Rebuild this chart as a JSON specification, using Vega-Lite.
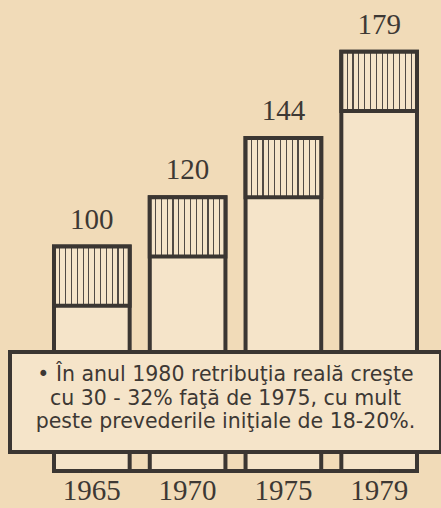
{
  "$schema": "https://vega.github.io/schema/vega-lite/v6.json",
  "width": 431,
  "height": 471,
  "autosize": "none",
  "padding": {"left": 10, "top": 0, "right": 0, "bottom": 37},
  "background": "#f1dbb8",
  "config": {"view": {"stroke": null}},
  "layer": [
    {
      "data": {"values": [
        {"year": "1965", "value": 100, "hatch_base": 76},
        {"year": "1970", "value": 120, "hatch_base": 96},
        {"year": "1975", "value": 144, "hatch_base": 120},
        {"year": "1979", "value": 179, "hatch_base": 155}
      ]},
      "encoding": {
        "x": {"field": "year", "type": "ordinal", "sort": null,
          "scale": {"paddingInner": 0.21, "paddingOuter": 0.355, "align": 0.647},
          "axis": {"title": null, "domain": false, "ticks": false, "labelAngle": 0, "labelFont": "Liberation Serif", "labelFontSize": 29, "labelColor": "#3d3834", "labelPadding": 5}}
      },
      "layer": [
        {
          "mark": {"type": "bar", "fill": "#f5e4c9", "stroke": "#3b3632", "strokeWidth": 4, "strokeJoin": "miter"},
          "encoding": {
            "y": {"field": "value", "type": "quantitative", "scale": {"domain": [9, 200], "nice": false, "zero": false}, "axis": null},
            "y2": {"datum": 9}
          }
        },
        {
          "mark": {"type": "bar", "stroke": "#3b3632", "strokeWidth": 4, "strokeJoin": "miter",
            "fill": {"gradient": "linear", "x1": 0, "x2": 1, "y1": 0, "y2": 0, "stops": [
              {"offset": 0.069, "color": "#f5e4c9"}, {"offset": 0.069, "color": "#514a45"}, {"offset": 0.084, "color": "#514a45"}, {"offset": 0.084, "color": "#f5e4c9"},
              {"offset": 0.146, "color": "#f5e4c9"}, {"offset": 0.146, "color": "#514a45"}, {"offset": 0.161, "color": "#514a45"}, {"offset": 0.161, "color": "#f5e4c9"},
              {"offset": 0.223, "color": "#f5e4c9"}, {"offset": 0.223, "color": "#514a45"}, {"offset": 0.238, "color": "#514a45"}, {"offset": 0.238, "color": "#f5e4c9"},
              {"offset": 0.300, "color": "#f5e4c9"}, {"offset": 0.300, "color": "#514a45"}, {"offset": 0.315, "color": "#514a45"}, {"offset": 0.315, "color": "#f5e4c9"},
              {"offset": 0.377, "color": "#f5e4c9"}, {"offset": 0.377, "color": "#514a45"}, {"offset": 0.392, "color": "#514a45"}, {"offset": 0.392, "color": "#f5e4c9"},
              {"offset": 0.454, "color": "#f5e4c9"}, {"offset": 0.454, "color": "#514a45"}, {"offset": 0.469, "color": "#514a45"}, {"offset": 0.469, "color": "#f5e4c9"},
              {"offset": 0.531, "color": "#f5e4c9"}, {"offset": 0.531, "color": "#514a45"}, {"offset": 0.546, "color": "#514a45"}, {"offset": 0.546, "color": "#f5e4c9"},
              {"offset": 0.608, "color": "#f5e4c9"}, {"offset": 0.608, "color": "#514a45"}, {"offset": 0.623, "color": "#514a45"}, {"offset": 0.623, "color": "#f5e4c9"},
              {"offset": 0.685, "color": "#f5e4c9"}, {"offset": 0.685, "color": "#514a45"}, {"offset": 0.700, "color": "#514a45"}, {"offset": 0.700, "color": "#f5e4c9"},
              {"offset": 0.762, "color": "#f5e4c9"}, {"offset": 0.762, "color": "#514a45"}, {"offset": 0.777, "color": "#514a45"}, {"offset": 0.777, "color": "#f5e4c9"},
              {"offset": 0.838, "color": "#f5e4c9"}, {"offset": 0.838, "color": "#514a45"}, {"offset": 0.853, "color": "#514a45"}, {"offset": 0.853, "color": "#f5e4c9"},
              {"offset": 0.915, "color": "#f5e4c9"}, {"offset": 0.915, "color": "#514a45"}, {"offset": 0.930, "color": "#514a45"}, {"offset": 0.930, "color": "#f5e4c9"}
            ]}},
          "encoding": {
            "y": {"field": "value", "type": "quantitative"},
            "y2": {"field": "hatch_base"}
          }
        },
        {
          "mark": {"type": "text", "font": "Liberation Serif", "fontSize": 29, "color": "#3d3834", "baseline": "alphabetic", "dy": -18},
          "encoding": {
            "y": {"field": "value", "type": "quantitative"},
            "text": {"field": "value", "type": "quantitative"}
          }
        },
        {
          "mark": {"type": "rule", "stroke": "#3b3632", "strokeWidth": 4},
          "encoding": {
            "x": {"datum": "1965"},
            "x2": {"datum": "1979"},
            "y": {"datum": 9}
          }
        }
      ]
    },
    {
      "data": {"values": [{"note": ["• În anul 1980 retribuţia reală creşte", "cu 30 - 32% faţă de 1975, cu mult", "peste prevederile iniţiale de 18-20%."]}]},
      "layer": [
        {
          "mark": {"type": "rect", "fill": "#f5e4c9", "stroke": "#3b3632", "strokeWidth": 4, "strokeJoin": "miter"},
          "encoding": {"y": {"datum": 57.3}, "y2": {"datum": 16.7}}
        },
        {
          "mark": {"type": "text", "font": "DejaVu Sans", "fontSize": 20.5, "color": "#3d3834", "lineHeight": 23.5, "baseline": "middle", "align": "center"},
          "encoding": {"y": {"datum": 47.9}, "text": {"field": "note"}}
        }
      ]
    }
  ]
}
